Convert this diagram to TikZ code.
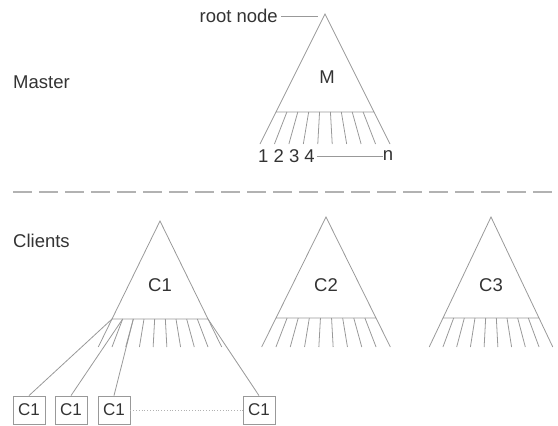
\documentclass[tikz,border=0pt]{standalone}
\usepackage{fontspec}
\setmainfont{Liberation Sans}
\newcommand{\mytri}[6]{%
  \coordinate (#1-top) at (#2,#3);
  \coordinate (#1-l) at ({#2-#5},#4);
  \coordinate (#1-r) at ({#2+#5},#4);
  \draw[treeline] (#1-top) -- (#1-l) -- (#1-r) -- cycle;
  \foreach \i in {0,...,9}{
    \pgfmathsetmacro\bx{#2-#5+\i*2*#5/9}
    \pgfmathsetmacro\ex{\bx+(\bx-#2)*(#6-#4)/(#4-#3)}
    \coordinate (#1-b\i) at (\bx,#4);
    \coordinate (#1-e\i) at (\ex,#6);
    \draw[treeline] (#1-b\i) -- (#1-e\i);
  }%
}
\tikzset{
  treeline/.style={draw=black!40, line width=0.8pt},
  lbl/.style={text=black!80, font=\fontsize{18.5}{22}\selectfont, inner sep=0pt},
  leafbox/.style={draw=black!40, line width=0.8pt, minimum width=32pt, minimum height=28pt, inner sep=0pt, text=black!80, font=\fontsize{17}{20}\selectfont}
}
\begin{document}
\begin{tikzpicture}[x=1pt,y=-1pt]
\useasboundingbox (0,0) rectangle (558,426);
% master
\mytri{M}{325}{14}{112}{49}{144}
\node[lbl] (mlabel) at (327,77) {M};
\node[lbl, anchor=east] (root) at (278,16) {root node};
\coordinate (rootend) at (318,16);
\draw[treeline] (root.east) ++(3,0) -- (rootend);
\node[lbl, anchor=west] (master) at (13,82) {Master};
\node[lbl, anchor=west] (idx) at (258,156) {1 2 3 4};
\node[lbl] (idxn) at (388,156) {n};
\draw[treeline] (idx.east) ++(2,0) coordinate (idxe) -- (idxn.west);
% separator
\coordinate (sepl) at (13,192);
\coordinate (sepr) at (558,192);
\draw[draw=black!30, line width=1.6pt, dash pattern=on 19pt off 7pt] (sepl) -- (sepr);
% clients
\node[lbl, anchor=west] (clients) at (13,241) {Clients};
\mytri{CA}{160}{221}{319}{48}{347}
\mytri{CB}{326}{217}{318}{50}{347}
\mytri{CC}{491}{217}{318}{48}{347}
\node[lbl] (c1) at (160,285) {C1};
\node[lbl] (c2) at (326,285) {C2};
\node[lbl] (c3) at (491,285) {C3};
% leaf boxes
\node[leafbox] (k1) at (29,410) {C1};
\node[leafbox] (k2) at (71,410) {C1};
\node[leafbox] (k3) at (114,410) {C1};
\node[leafbox] (k4) at (259,410) {C1};
\draw[treeline] (CA-b0) -- (k1.north);
\draw[treeline] (CA-b1) -- (k2.north);
\draw[treeline] (CA-b2) -- (k3.north);
\draw[treeline] (CA-b9) -- (k4.north);
\draw[draw=black!30, line width=0.8pt, dotted] (k3.east) -- (k4.west);
\end{tikzpicture}
\end{document}
